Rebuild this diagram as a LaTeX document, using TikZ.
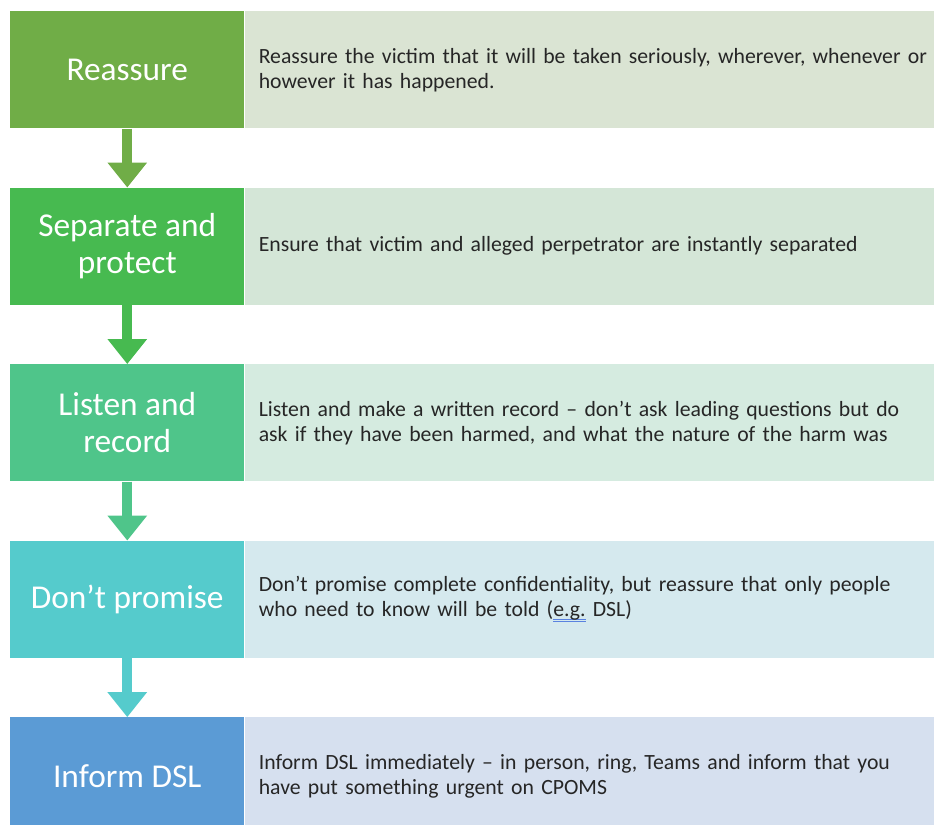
\documentclass[tikz,border=0pt]{standalone}
\usepackage{fontspec}
\setmainfont{Carlito}
\usetikzlibrary{positioning,arrows.meta}

\definecolor{stepA}{HTML}{70AD47}
\definecolor{stepB}{HTML}{47BA50}
\definecolor{stepC}{HTML}{4FC58A}
\definecolor{stepD}{HTML}{55CBCC}
\definecolor{stepE}{HTML}{5B9BD5}
\definecolor{paleA}{HTML}{DAE4D3}
\definecolor{paleB}{HTML}{D4E6D7}
\definecolor{paleC}{HTML}{D5EBE0}
\definecolor{paleD}{HTML}{D5E9EE}
\definecolor{paleE}{HTML}{D6E0EF}
\definecolor{spellblue}{HTML}{5A82E0}

\newsavebox{\spellbox}
\newcommand{\spellmark}[1]{\sbox{\spellbox}{#1}%
    \rlap{\textcolor{spellblue}{\rule[-2.6pt]{\wd\spellbox}{0.75pt}}}%
    \rlap{\textcolor{spellblue}{\rule[-4.4pt]{\wd\spellbox}{0.75pt}}}%
    \usebox{\spellbox}}

\begin{document}
\begin{tikzpicture}[
            headbox/.style={minimum width=175.5pt, minimum height=87.75pt, inner sep=0pt,
                align=center, text=white, font=\fontsize{25}{27.75}\selectfont},
            descbox/.style={minimum height=87.75pt, text width=506pt, inner xsep=10.5pt,
                inner ysep=0pt, align=left, text=black!85, font=\fontsize{16.3}{18.75}\selectfont},
            flow/.style={line width=7.5pt, -{Triangle[width=28.5pt,length=18.75pt]}}]

            \useasboundingbox (0,0) rectangle (700.5pt,-618pt);

            \node[headbox, fill=stepA, anchor=north west] (head1) at (7.5pt,-8.25pt) {Reassure};
            \node[descbox, fill=paleA, right=0pt of head1] (desc1)
                {Reassure the victim that it will be taken seriously, wherever, whenever or\\however it has happened.};

            \node[headbox, fill=stepB, below=44.25pt of head1] (head2) {Separate and\\protect};
            \node[descbox, fill=paleB, right=0pt of head2] (desc2)
                {Ensure that victim and alleged perpetrator are instantly separated};

            \node[headbox, fill=stepC, below=44.25pt of head2] (head3) {Listen and\\record};
            \node[descbox, fill=paleC, right=0pt of head3] (desc3)
                {Listen and make a written record -- don’t ask leading questions but do\\ask if they have been harmed, and what the nature of the harm was};

            \node[headbox, fill=stepD, below=44.25pt of head3] (head4) {Don’t promise};
            \node[descbox, fill=paleD, right=0pt of head4] (desc4)
                {Don’t promise complete confidentiality, but reassure that only people\\who need to know will be told (\spellmark{e.g.} DSL)};

            \node[headbox, fill=stepE, below=44.25pt of head4] (head5) {Inform DSL};
            \node[descbox, fill=paleE, right=0pt of head5] (desc5)
                {Inform DSL immediately -- in person, ring, Teams and inform that you\\have put something urgent on CPOMS};

            \draw[flow, stepA] (head1) -- (head2);
            \draw[flow, stepB] (head2) -- (head3);
            \draw[flow, stepC] (head3) -- (head4);
            \draw[flow, stepD] (head4) -- (head5);
        \end{tikzpicture}
\end{document}
